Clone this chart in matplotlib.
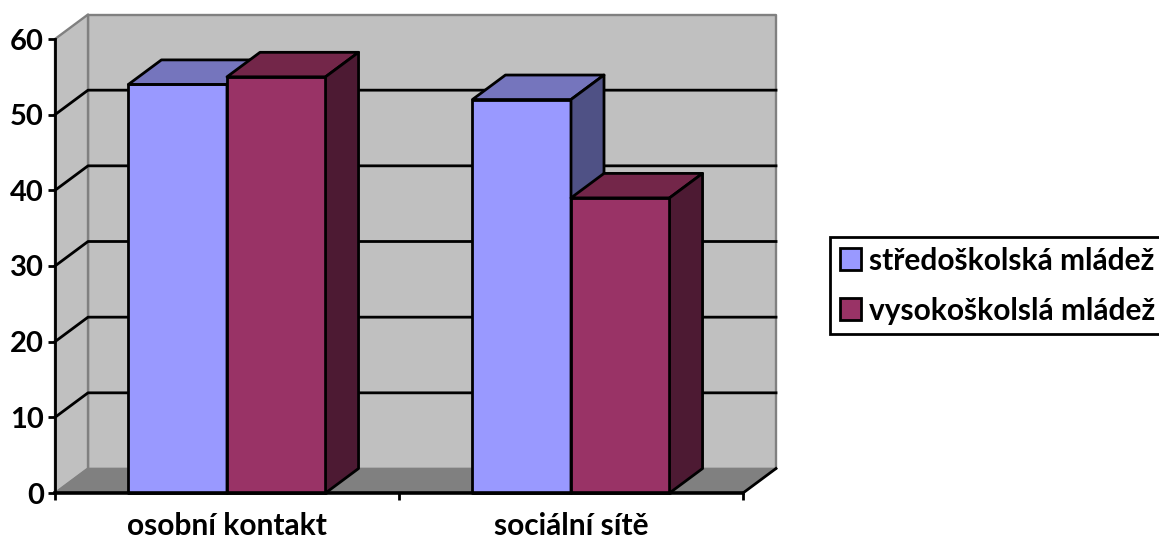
import matplotlib
matplotlib.use('Agg')
import matplotlib.pyplot as plt
from matplotlib.patches import Polygon, Patch

plt.rcParams['font.family'] = ['Lato', 'DejaVu Sans']
plt.rcParams['font.weight'] = 'bold'

# data
categories = ['osobní kontakt', 'sociální sítě']
series_names = ['středoškolská mládež', 'vysokoškolslá mládež']
stredoskolska = [54, 52]
vysokoskolska = [55, 39]
y_ticks = [0, 10, 20, 30, 40, 50, 60]

# face colours: front, top, side
colors_blue = ('#9999FF', '#7575BD', '#4F5185')
colors_red = ('#993366', '#732649', '#4D1A33')
wall = '#C0C0C0'
floor = '#808080'

W, H = 1159, 542
fig = plt.figure(figsize=(W / 100, H / 100), dpi=100)

# axes = the front plane of the fake 3D box
ax = fig.add_axes([55 / W, 1 - 493 / H, 688 / W, 454 / H])
ax.set_xlim(0, 2)
ax.set_ylim(0, 60)
ax.patch.set_visible(False)

# depth offset, data units
dx = 33 / 344
dy = 24.5 / (454 / 60)
bar_w = 0.2865
lw = 2.0


def poly(pts, fc, ec='black', z=1, width=lw):
    ax.add_patch(Polygon(pts, closed=True, facecolor=fc, edgecolor=ec, linewidth=width,
                         joinstyle='round', clip_on=False, zorder=z))


def bar3d(x, v, cols, z):
    poly([(x, 0), (x + bar_w, 0), (x + bar_w, v), (x, v)], cols[0], z=z)
    poly([(x, v), (x + bar_w, v), (x + bar_w + dx, v + dy), (x + dx, v + dy)], cols[1], z=z)
    poly([(x + bar_w, 0), (x + bar_w + dx, dy), (x + bar_w + dx, v + dy), (x + bar_w, v)], cols[2], z=z)


# walls and floor
poly([(dx, dy), (2 + dx, dy), (2 + dx, 60 + dy), (dx, 60 + dy)], wall, ec=floor, z=1, width=1.7)
poly([(0, 0), (dx, dy), (dx, 60 + dy), (0, 60)], wall, ec=floor, z=1, width=1.7)
poly([(0, 0), (2, 0), (2 + dx, dy), (dx, dy)], floor, ec=floor, z=1, width=1)

# grid lines on the walls
for t in y_ticks[1:-1]:
    ax.plot([0, dx, 2 + dx], [t, t + dy, t + dy], color='black', lw=lw, clip_on=False, zorder=2)
ax.plot([2, 2 + dx], [0, dy], color='black', lw=lw, clip_on=False, zorder=2)

# bars, back to front
for i in range(len(categories)):
    c = i + 0.5
    bar3d(c - bar_w, stredoskolska[i], colors_blue, 3 + i)
    bar3d(c, vysokoskolska[i], colors_red, 3 + i)

# axes
for s in ['top', 'right']:
    ax.spines[s].set_visible(False)
ax.spines['left'].set_linewidth(lw)
ax.spines['bottom'].set_linewidth(lw + 0.6)
for s in ['left', 'bottom']:
    ax.spines[s].set_zorder(10)

ax.set_yticks(y_ticks)
ax.tick_params(axis='y', length=5, width=lw, labelsize=21, pad=3)
ax.set_xticks([0, 1, 2])
ax.set_xticklabels([])
ax.set_xticks([0.5, 1.5], minor=True)
ax.set_xticklabels(categories, minor=True, fontsize=21.5)
ax.tick_params(axis='x', which='major', length=5, width=lw)
ax.tick_params(axis='x', which='minor', length=0, pad=14)

# legend runs off the right edge of the picture, same as the original
handles = [Patch(facecolor=colors_blue[0], edgecolor='black', linewidth=lw),
           Patch(facecolor=colors_red[0], edgecolor='black', linewidth=lw)]
leg = fig.legend(handles, series_names, loc='upper left', bbox_to_anchor=(830 / W, 1 - 237 / H),
                 bbox_transform=fig.transFigure, fontsize=21.5, frameon=True, fancybox=False,
                 edgecolor='black', framealpha=1, borderaxespad=0, borderpad=0.32,
                 handlelength=0.73, handleheight=0.73, handletextpad=0.25, labelspacing=0.74)
leg.get_frame().set_linewidth(lw)

fig.savefig('out.png', dpi=100)
